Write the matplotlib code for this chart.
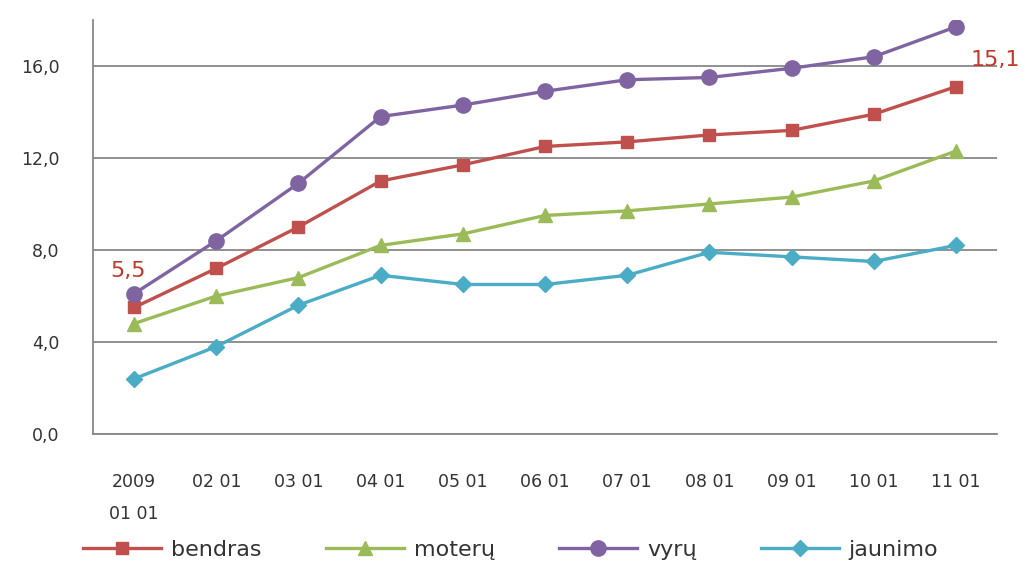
import matplotlib.pyplot as plt

# Duomenys
datos = ["2009\n01 01", "02 01", "03 01", "04 01", "05 01", "06 01",
         "07 01", "08 01", "09 01", "10 01", "11 01"]
bendras = [5.5, 7.2, 9.0, 11.0, 11.7, 12.5, 12.7, 13.0, 13.2, 13.9, 15.1]
moteru = [4.8, 6.0, 6.8, 8.2, 8.7, 9.5, 9.7, 10.0, 10.3, 11.0, 12.3]
vyru = [6.1, 8.4, 10.9, 13.8, 14.3, 14.9, 15.4, 15.5, 15.9, 16.4, 17.7]
jaunimo = [2.4, 3.8, 5.6, 6.9, 6.5, 6.5, 6.9, 7.9, 7.7, 7.5, 8.2]
y_ticks = [0, 4, 8, 12, 16]
y_labels = ["0,0", "4,0", "8,0", "12,0", "16,0"]

fig = plt.figure(figsize=(10.3, 5.7), dpi=100)
ax = fig.add_axes([0.0903, 0.2386, 0.8777, 0.7264])

x = range(len(datos))
ax.plot(x, bendras, color="#C0504D", lw=2.4, marker="s", ms=9, label="bendras")
ax.plot(x, moteru, color="#9BBB59", lw=2.4, marker="^", ms=10, label="moterų")
ax.plot(x, vyru, color="#8064A2", lw=2.4, marker="o", ms=11, label="vyrų")
ax.plot(x, jaunimo, color="#4BACC6", lw=2.4, marker="D", ms=8, label="jaunimo")

# Reikšmių etiketės
ax.annotate("5,5", (0, bendras[0]), xytext=(-4, 26), textcoords="offset points",
            ha="center", va="center", color="#C0392B", fontsize=16)
ax.annotate("15,1", (10, bendras[-1]), xytext=(28, 19), textcoords="offset points",
            ha="center", va="center", color="#C0392B", fontsize=16)

ax.set_xlim(-0.5, 10.5)
ax.set_ylim(0, 18)
ax.set_yticks(y_ticks)
ax.set_yticklabels(y_labels)
ax.set_xticks(list(x))
ax.set_xticklabels(datos, linespacing=2.0)
ax.tick_params(axis="x", length=0, pad=28, labelsize=12.5, colors="#333333")
ax.tick_params(axis="y", length=0, pad=24, labelsize=12.5, colors="#333333")

ax.grid(axis="y", color="#888888", lw=1.3)
ax.set_axisbelow(True)
for s in ["top", "right"]:
    ax.spines[s].set_visible(False)
ax.spines["left"].set_color("#888888")
ax.spines["bottom"].set_color("#888888")
ax.spines["left"].set_linewidth(1.3)
ax.spines["bottom"].set_linewidth(1.3)

fig.legend(loc="center", bbox_to_anchor=(0.496, 0.035), ncol=4, frameon=False,
           fontsize=16, handlelength=3.5, columnspacing=2.9, handletextpad=0.45,
           labelcolor="#333333")

plt.savefig("out.png")
